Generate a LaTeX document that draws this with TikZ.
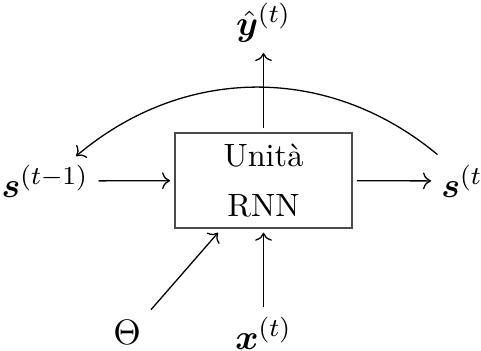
\documentclass[tikz,border=0pt]{standalone}
\usepackage{amsmath,amssymb,bm}
\usetikzlibrary{arrows.meta,positioning,calc}
\tikzset{
  cell/.style ={draw=black!70,minimum width=54.9pt,minimum height=28.8pt,align=center,outer sep=1.5pt},
  lbl/.style  ={inner sep=3pt,font=\fontsize{11.2}{13}\selectfont},
  flow/.style ={->},
}

\begin{document}
\begin{tikzpicture}[x=0.31pt,y=-0.31pt]
  \useasboundingbox (0,0) rectangle (481,351);
  \node[cell](rnn) at (263.5,180.5){Unità\\[3.5pt]RNN};
  \node[lbl](stm1) at (45,181){$\bm{s}^{(t-1)}$};
  \node[lbl,anchor=west](st) at (431,181){$\bm{s}^{(t)}$};
  \node[lbl,anchor=south](yhat) at (263.5,53){$\hat{\bm{y}}^{(t)}$};
  \node[lbl](xt) at (263.5,333){$\bm{x}^{(t)}$};
  \node[lbl](theta) at (127,332){$\Theta$};
  \draw[flow](stm1)--(rnn); \draw[flow](rnn)--(st);
  \draw[flow](rnn)--(yhat); \draw[flow](xt)--(rnn);
  \draw[flow](theta.north east)--(rnn);
  \draw[flow]([xshift=2pt]st.north west) to[bend right=40] ([xshift=-7pt,yshift=-0.5pt]stm1.north east);
\end{tikzpicture}
\end{document}
